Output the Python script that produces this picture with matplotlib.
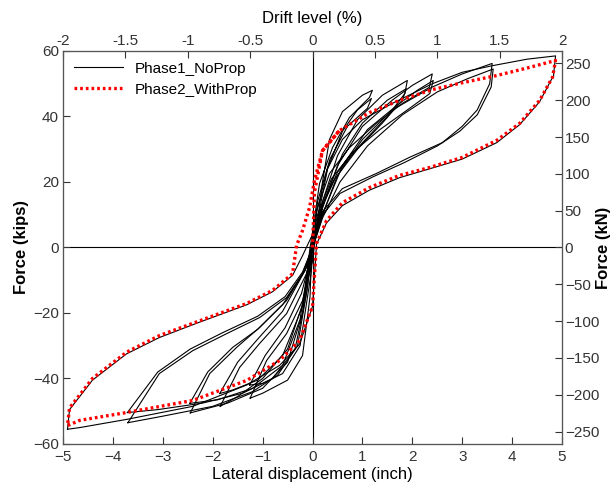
import matplotlib
matplotlib.use("Agg")
import matplotlib.pyplot as plt

plt.rcParams['font.family'] = ['Liberation Sans', 'DejaVu Sans']

# Phase1 (no prop) - cycles, displacement in inch, force in kips
# 0.5 % drift
p1_a_x = [-1.25, -0.92, -0.52, -0.2, 0.0, 0.1, 0.2, 0.34, 0.6, 1.0, 1.2,
          1.14, 0.74, 0.4, 0.14, 0.0, -0.05, -0.2, -0.5, -1.0, -1.25]
p1_a_f = [-46, -34.5, -26.3, -16.2, -4, 8, 20, 33, 41.5, 46.5, 48,
          45.8, 39.7, 30.5, 19.5, 5, -15, -33, -40.5, -44.5, -46]
# 0.5 % drift, second cycle
p1_a2_x = [-1.26, -0.95, -0.55, -0.22, -0.02, 0.12, 0.3, 0.6, 0.9, 1.18,
           1.1, 0.7, 0.35, 0.1, -0.03, -0.25, -0.6, -1.0, -1.26]
p1_a2_f = [-42, -33, -24.5, -14, -2, 10, 24, 35.5, 42, 45.5,
           42.5, 37, 27, 14, -8, -30, -38.5, -41.5, -42]
# 0.75 % drift
p1_b_x = [-1.85, -1.46, -1.06, -0.52, -0.12, 0.05, 0.2, 0.5, 0.9, 1.4, 1.9,
          1.85, 1.5, 1.0, 0.5, 0.2, 0.0, -0.15, -0.5, -1.0, -1.5, -1.85]
p1_b_f = [-48.5, -36.6, -29.3, -20.2, -8, 3, 14, 28, 39, 46.5, 51,
          47, 40, 32, 23, 13, 2, -15, -31, -40, -45.5, -48.5]
# 0.75 % drift, second cycle
p1_b2_x = [-1.86, -1.5, -1.1, -0.6, -0.15, 0.05, 0.25, 0.6, 1.0, 1.5, 1.88,
           1.8, 1.4, 0.9, 0.45, 0.15, -0.02, -0.2, -0.6, -1.1, -1.6, -1.86]
p1_b2_f = [-44.6, -35, -28, -19.5, -7, 4, 15, 28.5, 38, 45, 48.5,
           45, 38, 30, 21, 11, 0, -18, -33, -40.5, -43.5, -44.6]
# 1 % drift
p1_c_x = [-2.45, -2.06, -1.52, -1.06, -0.52, -0.12, 0.05, 0.2, 0.5, 1.0, 1.6, 2.0, 2.4,
          2.34, 1.8, 1.28, 0.74, 0.34, 0.08, -0.05, -0.2, -0.5, -1.0, -1.7, -2.45]
p1_c_f = [-50.5, -38.5, -30.5, -24.4, -16.2, -6.1, 3, 12, 25, 37, 45, 49.5, 53,
          48.9, 44, 37.9, 30.5, 22.6, 11.3, 0, -20, -35, -43, -47.5, -50.5]
# 1 % drift, second cycle
p1_c2_x = [-2.46, -2.1, -1.6, -1.1, -0.6, -0.15, 0.05, 0.25, 0.6, 1.1, 1.7, 2.1, 2.42,
           2.35, 1.9, 1.35, 0.8, 0.38, 0.1, -0.05, -0.25, -0.6, -1.2, -1.9, -2.46]
p1_c2_f = [-47.6, -38, -30.5, -25, -17.5, -7, 2, 12, 25, 36, 43.5, 48, 51,
           47, 42, 36, 29, 21, 10, -2, -22, -36, -43, -46.5, -47.6]
# 1.5 % drift
p1_d_x = [-3.7, -3.07, -2.4, -1.72, -1.06, -0.52, -0.2, 0.0, 0.2, 0.5, 1.0, 1.6, 2.4, 3.0, 3.6,
          3.55, 3.3, 3.0, 2.6, 1.94, 1.28, 0.6, 0.2, 0.0, -0.1, -0.3, -0.7, -1.2, -2.0, -3.0, -3.7]
p1_d_f = [-53.5, -38.5, -31.5, -26.3, -21.4, -15.3, -8, 0, 10, 22, 33, 42, 49, 53, 56.2,
          50, 42, 37, 32, 27.5, 22.6, 18, 11, 2, -12, -30, -39, -44, -48.5, -51.5, -53.5]
# 1.5 % drift, second cycle
p1_d2_x = [-3.71, -3.1, -2.45, -1.8, -1.1, -0.55, -0.2, 0.0, 0.2, 0.55, 1.1, 1.8, 2.5, 3.1, 3.62,
           3.58, 3.3, 2.95, 2.5, 1.85, 1.2, 0.55, 0.18, 0.0, -0.12, -0.35, -0.8, -1.4, -2.2, -3.1, -3.71]
p1_d2_f = [-50.4, -38, -31, -26, -21, -15, -7.5, 0, 9, 20, 31, 40.5, 47.5, 51.5, 54.5,
           49, 40.5, 35.5, 31, 26, 21.5, 16.5, 9.5, 0, -14, -31, -40, -44.5, -47.5, -49.5, -50.4]
# 2 % drift
p1_e_x = [-4.91, -4.87, -4.41, -3.73, -3.07, -2.3, -1.32, -0.8, -0.4, -0.2, 0.0, 0.1, 0.3, 0.6,
          1.0, 1.6, 2.4, 3.0, 3.6, 4.3, 4.87,
          4.83, 4.55, 4.15, 3.69, 3.0, 2.34, 1.74, 1.14, 0.6, 0.28, 0.08, 0.0, -0.26, -0.66,
          -1.32, -2.4, -3.73, -4.67, -4.91]
p1_e_f = [-55.5, -49.5, -40.5, -32.5, -27.5, -23, -17.5, -13.5, -8.5, -2.5, 4, 12, 24, 33,
          39, 44, 50, 53.5, 55.5, 57.5, 58.5,
          52.5, 44.5, 37.5, 32, 27, 24, 21.3, 17.5, 12.8, 7.5, 1, -18, -29.5, -36,
          -42, -48.5, -52.5, -55, -55.5]

# Phase2 (with prop) - one cycle at 2 % drift
p2_x = [0.0, 0.04, 0.2, 0.54, 1.14, 1.74, 2.4, 3.0, 3.69, 4.3, 4.87,
        4.81, 4.55, 4.15, 3.69, 3.0, 2.34, 1.74, 1.14, 0.6, 0.28, 0.08, 0.0, -0.26, -0.66,
        -1.32, -2.4, -3.73, -4.67, -4.91,
        -4.87, -4.41, -3.73, -3.07, -2.3, -1.32, -0.8, -0.4, -0.32, -0.2, -0.06, 0.04, 0.2, 0.54]
p2_f = [0.0, 17, 29.6, 35.7, 41.2, 44.9, 48.2, 50.3, 52.5, 54.8, 57.1,
        52, 44.9, 37.9, 32.7, 27.5, 24.4, 22, 18.3, 13.7, 8.2, 1.2, -18, -28.4, -34.5,
        -40.6, -46.7, -50.4, -52.8, -54.4,
        -49, -40, -32, -26.9, -22.6, -17.1, -13.1, -8, 0.6, 5.2, 12.2, 20.5, 29.6, 35.7]

kips_to_kN = 4.448
inch_to_drift = 0.4

fig = plt.figure(figsize=(6.16, 4.87), dpi=100)
ax = fig.add_axes([0.1023, 0.0883, 0.8101, 0.807])

ax.axhline(0, color='black', lw=0.8, zorder=1)
ax.axvline(0, color='black', lw=0.8, zorder=1)

black_cycles = [(p1_a_x, p1_a_f), (p1_a2_x, p1_a2_f), (p1_b_x, p1_b_f), (p1_b2_x, p1_b2_f),
                (p1_c_x, p1_c_f), (p1_c2_x, p1_c2_f), (p1_d_x, p1_d_f), (p1_d2_x, p1_d2_f),
                (p1_e_x, p1_e_f)]
for i, (cx, cf) in enumerate(black_cycles):
    ax.plot(cx, cf, color='black', lw=0.8, zorder=2,
            label='Phase1_NoProp' if i == 0 else None)

ax.plot(p2_x, p2_f, color='red', lw=2.4, ls=(0, (0.8, 0.9)), zorder=3,
        label='Phase2_WithProp')

ax.set_xlim(-5, 5)
ax.set_ylim(-60, 60)
ax.set_xticks(range(-5, 6))
ax.set_yticks(range(-60, 61, 20))
ax.set_xlabel('Lateral displacement (inch)', fontsize=12)
ax.set_ylabel('Force (kips)', fontsize=12, fontweight='bold')
ax.xaxis.set_label_coords(0.5, -0.058)
ax.yaxis.set_label_coords(-0.068, 0.5)
ax.tick_params(direction='in', length=5, labelsize=11, colors='#333333', pad=2)
ax.tick_params(axis='x', pad=4)
ax.tick_params(axis='y', pad=3)

for s in ax.spines.values():
    s.set_color('#555555')

# right axis in kN
ax_r = ax.twinx()
ax_r.set_ylim(-60 * kips_to_kN, 60 * kips_to_kN)
ax_r.set_yticks(range(-250, 251, 50))
ax_r.set_ylabel('Force (kN)', fontsize=12, fontweight='bold')
ax_r.yaxis.set_label_coords(1.068, 0.5)
ax_r.tick_params(direction='in', length=5, labelsize=11, colors='#333333', pad=2)

# top axis in drift level
ax_t = ax.twiny()
ax_t.set_xlim(-5 * inch_to_drift, 5 * inch_to_drift)
ax_t.set_xticks([-2, -1.5, -1, -0.5, 0, 0.5, 1, 1.5, 2])
ax_t.set_xticklabels(['-2', '-1.5', '-1', '-0.5', '0', '0.5', '1', '1.5', '2'])
ax_t.set_xlabel('Drift level (%)', fontsize=12)
ax_t.xaxis.set_label_coords(0.5, 1.072)
ax_t.tick_params(direction='in', length=5, labelsize=11, colors='#333333', pad=2)

for a in (ax_r, ax_t):
    for s in a.spines.values():
        s.set_color('#555555')

ax.legend(loc='upper left', frameon=False, fontsize=11, handlelength=3.2,
          borderaxespad=0.3, labelspacing=0.45, bbox_to_anchor=(0.0, 1.0))

plt.savefig("out.png", dpi=100)
